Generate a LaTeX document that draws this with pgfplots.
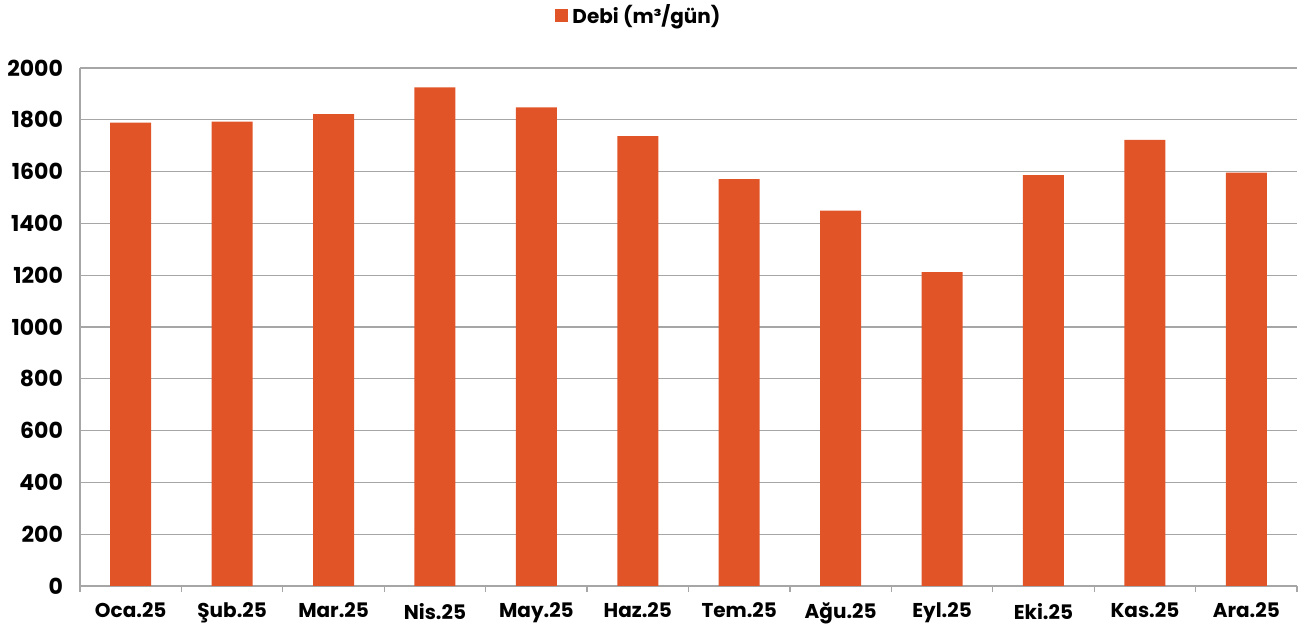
\documentclass[border=0pt]{standalone}
\usepackage{fontspec}
\setmainfont{Poppins}
\usepackage{pgfplots}
\pgfplotsset{compat=1.18}
\definecolor{barc}{HTML}{E05427}
\definecolor{gridc}{HTML}{A6A6A6}
\begin{document}
\begin{tikzpicture}
\path[use as bounding box] (-40pt,-22pt) rectangle (609.5pt,293pt);
\begin{axis}[
  scale only axis, width=608.5pt, height=259pt,
  at={(0,0)}, anchor=south west,
  xmin=-0.5, xmax=11.5, ymin=0, ymax=2000,
  ytick={0,200,...,2000},
  xtick={0,...,11},
  xticklabels={Oca.25,Şub.25,Mar.25,Nis.25,May.25,Haz.25,Tem.25,Ağu.25,Eyl.25,Eki.25,Kas.25,Ara.25},
  minor xtick={-0.5,0.5,...,11.5},
  major tick length=0pt, minor tick length=3pt,
  tick align=outside,
  xtick style={draw=none}, ytick style={draw=none},
  minor x tick style={draw=gridc, line width=0.6pt},
  axis x line*=bottom, axis y line*=left,
  axis line style={draw=gridc, line width=0.6pt, -},
  ymajorgrids, grid style={draw=gridc, line width=0.6pt},
  /pgf/number format/assume math mode=true,
  /pgf/number format/1000 sep={},
  xticklabel style={font=\bfseries\fontsize{10}{12}\selectfont, yshift=-5pt},
  yticklabel style={font=\bfseries\fontsize{11}{13}\selectfont, xshift=-5pt},
  ybar, bar width=20.5pt,
  legend style={at={(0.46,1.102)}, anchor=center, draw=none, fill=none,
    font=\bfseries\fontsize{10}{12}\selectfont},
  legend image code/.code={\fill[barc] (0pt,-3.3pt) rectangle (6.6pt,3.3pt);},
]
\addplot[fill=barc, draw=none] coordinates {
 (0,1789) (1,1793) (2,1822) (3,1925) (4,1848) (5,1737)
 (6,1571) (7,1449) (8,1212) (9,1586) (10,1722) (11,1596)};
\addlegendentry{Debi (m³/gün)}
\end{axis}
\end{tikzpicture}
\end{document}
